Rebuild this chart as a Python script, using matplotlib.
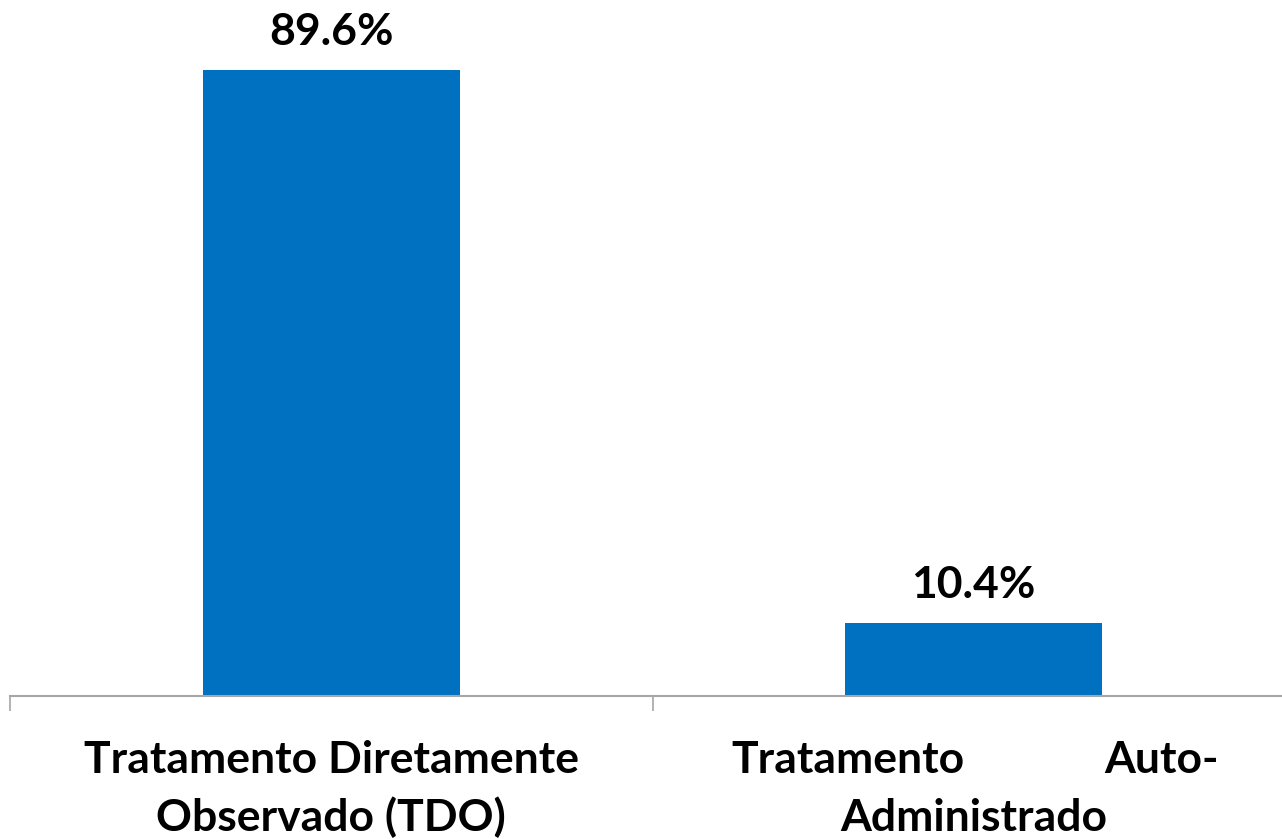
import matplotlib
matplotlib.use("Agg")
import matplotlib.pyplot as plt
import matplotlib.transforms as mtransforms

categories = ["Tratamento Diretamente\nObservado (TDO)", "Tratamento Auto-\nAdministrado"]
values = [89.6, 10.4]
value_labels = ["89.6%", "10.4%"]

plt.rcParams['font.family'] = ['Lato', 'DejaVu Sans']

W, H = 1282, 839
fig = plt.figure(figsize=(W / 100, H / 100), dpi=100)
# axes: x from 10 px to 1295 px; baseline at y=695.5 px
left = 10 / W
width = 1285 / W
bottom = (H - 695.5) / H
height = 698 / H
ax = fig.add_axes([left, bottom, width, height])
x = list(range(len(categories)))
ax.bar(x, values, width=0.4, color="#0070C0", zorder=2)
ax.set_xlim(-0.5, len(categories) - 0.5)
ax.set_ylim(0, 100)

for s in ["top", "right", "left"]:
    ax.spines[s].set_visible(False)
ax.spines["bottom"].set_color("#a6a6a6")
ax.spines["bottom"].set_linewidth(1.5)
ax.set_yticks([])
ax.set_xticks([-0.5 + i for i in range(len(categories) + 1)])
ax.set_xticklabels([])
ax.tick_params(axis="x", length=11, width=1.2, color="#a6a6a6", direction="out")

fs = 32
for xi, v, lab in zip(x, values, value_labels):
    ax.annotate(lab, (xi, v), xytext=(0, 18), textcoords="offset points",
                ha="center", va="baseline", fontsize=fs, fontweight="bold", color="black")

trans = mtransforms.blended_transform_factory(ax.transData, fig.transFigure)
y1 = 1 - 773 / H
y2 = 1 - 831 / H
# first category: two centered lines
l1, l2 = categories[0].split("\n")
fig.text(0, y1, l1, transform=trans, ha="center", va="baseline", fontsize=fs, fontweight="bold")
fig.text(0, y2, l2, transform=trans, ha="center", va="baseline", fontsize=fs, fontweight="bold")
# second category: first line justified across the label width
m1, m2 = categories[1].split("\n")
words = m1.split(" ")
fig.text(1 - 0.377, y1, words[0], transform=trans, ha="left", va="baseline", fontsize=fs, fontweight="bold")
fig.text(1 + 0.382, y1, words[1], transform=trans, ha="right", va="baseline", fontsize=fs, fontweight="bold")
fig.text(1, y2, m2, transform=trans, ha="center", va="baseline", fontsize=fs, fontweight="bold")

fig.savefig("out.png", dpi=100)
